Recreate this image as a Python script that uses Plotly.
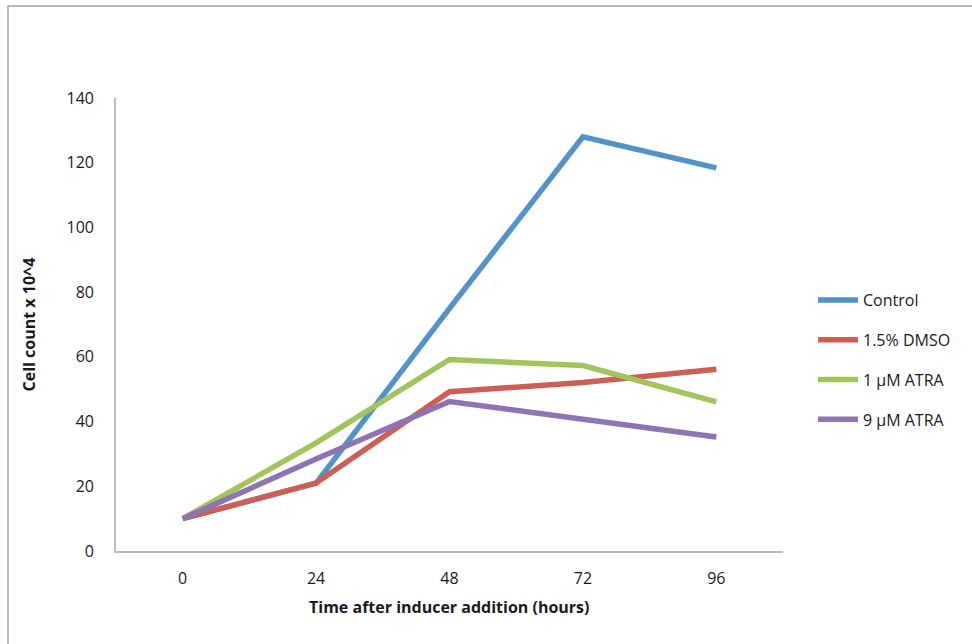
import plotly.graph_objects as go

# Sampling times (hours after inducer addition)
hours = [0, 24, 48, 72, 96]
tick_labels = ["0", "24", "48", "72", "96"]

# Cell counts (x 10^4) per treatment
control = [10, 21, 75, 128, 118.4]
dmso = [10, 21, 49.2, 52.1, 56.2]
atra_1um = [10, 33.4, 59.2, 57.3, 46.1]
atra_9um = [10, 28.4, 46.2, 40.8, 35.2]

series_names = ["Control", "1.5% DMSO", "1 µM ATRA", "9 µM ATRA"]
series_values = [control, dmso, atra_1um, atra_9um]
series_colors = ["#5293CA", "#CD5F56", "#A2C45C", "#8E74B2"]

FONT = "'Open Sans', Lato, Arial, sans-serif"
TEXT_COLOR = "#1a1a1a"
AXIS_COLOR = "#bdbdbd"

fig = go.Figure()
for name, vals, color in zip(series_names, series_values, series_colors):
    fig.add_trace(go.Scatter(
        x=hours, y=vals, name=name, mode="lines",
        legendgroup=name,
        line=dict(color=color, width=5.5),
        hoverinfo="x+y+name",
    ))

W, H = 972, 644
L, R, T, B = 116, 189, 98, 93
plot_w = W - L - R
plot_h = H - T - B

def px_x(p):
    return (p - L) / plot_w

def px_y(p):
    return (H - B - p) / plot_h

fig.update_layout(
    width=W, height=H,
    margin=dict(l=L, r=R, t=T, b=B),
    paper_bgcolor="white", plot_bgcolor="white",
    font=dict(family=FONT, size=16, color=TEXT_COLOR),
    showlegend=True,
    legend=dict(
        x=px_x(813), y=px_y(283), xanchor="left", yanchor="top",
        font=dict(family=FONT, size=16, color=TEXT_COLOR),
        tracegroupgap=16, itemwidth=40,
        bgcolor="rgba(0,0,0,0)",
    ),
    xaxis=dict(
        range=[-12, 108], tickmode="array", tickvals=hours, ticktext=tick_labels,
        showgrid=False, zeroline=False, showline=True,
        linecolor=AXIS_COLOR, linewidth=1.6, ticks="",
        ticklabelstandoff=12, fixedrange=True,
    ),
    yaxis=dict(
        range=[0, 140], tickmode="array", tickvals=list(range(0, 141, 20)),
        showgrid=False, zeroline=False, showline=True,
        linecolor=AXIS_COLOR, linewidth=1.6, ticks="",
        ticklabelstandoff=17, fixedrange=True,
    ),
    annotations=[
        dict(text="<b>Time after inducer addition (hours)</b>", xref="paper", yref="paper",
             x=0.5, y=px_y(607), xanchor="center", yanchor="middle", showarrow=False,
             font=dict(family=FONT, size=16, color=TEXT_COLOR)),
        dict(text="<b>Cell count x 10^4</b>", xref="paper", yref="paper",
             x=px_x(28), y=0.5, xanchor="center", yanchor="middle", showarrow=False,
             textangle=-90, font=dict(family=FONT, size=16, color=TEXT_COLOR)),
    ],
    shapes=[
        dict(type="rect", xref="paper", yref="paper",
             x0=px_x(8), x1=px_x(1200), y0=px_y(800), y1=px_y(6),
             line=dict(color="#a3a3a3", width=1.5), fillcolor="rgba(0,0,0,0)",
             layer="below"),
    ],
)

fig.write_html("out.html")
